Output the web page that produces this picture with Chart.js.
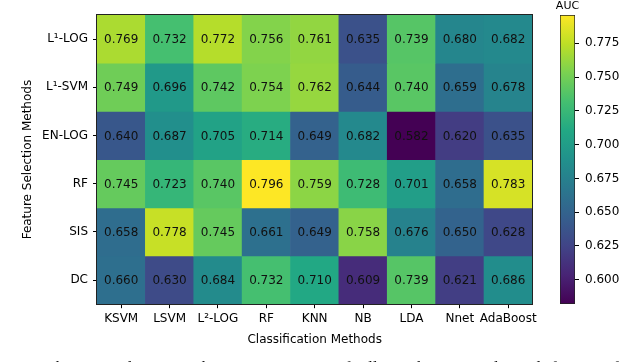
<!DOCTYPE html>
<html>
<head>
<meta charset="utf-8">
<script src="https://cdn.jsdelivr.net/npm/chart.js@4.4.1/dist/chart.umd.min.js"></script>
<style>
  body { margin: 0; background: #fff; width: 640px; height: 362px; overflow: hidden; position: relative; }
  #heat { position: absolute; left: 0; top: 0; }
  #cbar { position: absolute; left: 540px; top: 0; }
  #caption {
    position: absolute; left: 12px; top: 359px; white-space: nowrap;
    font-family: "Liberation Serif", serif; font-size: 17px; line-height: 17px;
    word-spacing: 6px; color: #111;
  }
</style>
</head>
<body>
<canvas id="heat" width="540" height="362"></canvas>
<canvas id="cbar" width="100" height="362"></canvas>
<div id="caption">2. A heatmap depicting the average AUC of all combinations derived from 6 feature and</div>
<script>
const rowLabels = ["L¹-LOG", "L¹-SVM", "EN-LOG", "RF", "SIS", "DC"];
const colLabels = ["KSVM", "LSVM", "L²-LOG", "RF", "KNN", "NB", "LDA", "Nnet", "AdaBoost"];

const aucL1Log = [0.769, 0.732, 0.772, 0.756, 0.761, 0.635, 0.739, 0.680, 0.682];
const aucL1Svm = [0.749, 0.696, 0.742, 0.754, 0.762, 0.644, 0.740, 0.659, 0.678];
const aucEnLog = [0.640, 0.687, 0.705, 0.714, 0.649, 0.682, 0.582, 0.620, 0.635];
const aucRf    = [0.745, 0.723, 0.740, 0.796, 0.759, 0.728, 0.701, 0.658, 0.783];
const aucSis   = [0.658, 0.778, 0.745, 0.661, 0.649, 0.758, 0.676, 0.650, 0.628];
const aucDc    = [0.660, 0.630, 0.684, 0.732, 0.710, 0.609, 0.739, 0.621, 0.686];

const colorbarTicks = [0.600, 0.625, 0.650, 0.675, 0.700, 0.725, 0.750, 0.775];
const aucMin = 0.582;
const aucMax = 0.796;

const rows = [aucL1Log, aucL1Svm, aucEnLog, aucRf, aucSis, aucDc];

// viridis colormap stops
const viridis = ["#440154", "#482475", "#414487", "#355f8d", "#2a788e", "#21918c",
                 "#22a884", "#44bf70", "#7ad151", "#bddf26", "#fde725"];

function hexToRgb(h) {
  return [parseInt(h.slice(1, 3), 16), parseInt(h.slice(3, 5), 16), parseInt(h.slice(5, 7), 16)];
}

function viridisColor(v) {
  let t = (v - aucMin) / (aucMax - aucMin);
  t = Math.max(0, Math.min(1, t));
  const pos = t * (viridis.length - 1);
  const i = Math.min(Math.floor(pos), viridis.length - 2);
  const f = pos - i;
  const a = hexToRgb(viridis[i]), b = hexToRgb(viridis[i + 1]);
  const c = a.map((x, k) => Math.round(x + (b[k] - x) * f));
  return `rgb(${c[0]},${c[1]},${c[2]})`;
}

const font = { family: "'DejaVu Sans', sans-serif", size: 12 };

// cell values + frame
const cellText = {
  id: "cellText",
  afterDatasetsDraw(chart) {
    const ctx = chart.ctx;
    ctx.save();
    ctx.font = "12px 'DejaVu Sans', sans-serif";
    ctx.fillStyle = "#111";
    ctx.textAlign = "center";
    ctx.textBaseline = "middle";
    chart.data.datasets.forEach((ds, r) => {
      chart.getDatasetMeta(r).data.forEach((bar, c) => {
        ctx.fillText(ds.data[c].auc.toFixed(3), bar.x, (bar.y + bar.base) / 2 + 1);
      });
    });
    const a = chart.chartArea;
    ctx.strokeStyle = "#222";
    ctx.lineWidth = 1;
    ctx.strokeRect(Math.round(a.left) - 0.5, Math.round(a.top) - 0.5,
                   Math.round(a.right - a.left) + 1, Math.round(a.bottom - a.top) + 1);
    ctx.restore();
  }
};

new Chart(document.getElementById("heat"), {
  type: "bar",
  data: {
    labels: colLabels,
    datasets: rows.map((vals, r) => ({
      label: rowLabels[r],
      data: vals.map((v, c) => ({ x: colLabels[c], y: [r, r + 1], auc: v })),
      backgroundColor: vals.map(v => viridisColor(v)),
      borderWidth: 0,
      grouped: false,
      barPercentage: 1,
      categoryPercentage: 1
    }))
  },
  options: {
    responsive: false,
    animation: false,
    devicePixelRatio: 1,
    layout: { padding: { left: 17, top: 15, right: 7, bottom: 15 } },
    plugins: { legend: { display: false }, tooltip: { enabled: false } },
    scales: {
      x: {
        type: "category",
        grid: { offset: false, drawOnChartArea: false, drawTicks: true, tickLength: 4, color: "#000" },
        border: { display: false },
        ticks: { color: "#000", font: font, padding: 3, autoSkip: false, maxRotation: 0 },
        title: { display: true, text: "Classification Methods", color: "#000", font: font, padding: { top: 4, bottom: 0 } }
      },
      y: {
        type: "linear",
        min: 0,
        max: 6,
        reverse: true,
        afterBuildTicks: axis => { axis.ticks = rowLabels.map((_, i) => ({ value: i + 0.5 })); },
        afterFit: axis => { axis.width = 80; },
        grid: { drawOnChartArea: false, drawTicks: true, tickLength: 4, color: "#000" },
        border: { display: false },
        ticks: { color: "#000", font: font, padding: 5, autoSkip: false, callback: (v, i) => rowLabels[i] },
        title: { display: true, text: "Feature Selection Methods", color: "#000", font: font, padding: { top: 4, bottom: 4 } }
      }
    }
  },
  plugins: [cellText]
});

// colorbar
const cbarTitle = {
  id: "cbarTitle",
  afterDraw(chart) {
    const ctx = chart.ctx, a = chart.chartArea;
    ctx.save();
    ctx.font = "11px 'DejaVu Sans', sans-serif";
    ctx.fillStyle = "#000";
    ctx.textAlign = "center";
    ctx.textBaseline = "middle";
    ctx.fillText("AUC", (a.left + a.right) / 2, a.top - 9);
    ctx.restore();
  }
};

new Chart(document.getElementById("cbar"), {
  type: "bar",
  data: {
    labels: ["AUC"],
    datasets: [{
      data: [[aucMin, aucMax]],
      backgroundColor: ctx => {
        const a = ctx.chart.chartArea;
        if (!a) return viridis[5];
        const g = ctx.chart.ctx.createLinearGradient(0, a.bottom, 0, a.top);
        viridis.forEach((c, i) => g.addColorStop(i / (viridis.length - 1), c));
        return g;
      },
      borderColor: "#222",
      borderWidth: 1,
      borderSkipped: false,
      barPercentage: 1,
      categoryPercentage: 1
    }]
  },
  options: {
    responsive: false,
    animation: false,
    devicePixelRatio: 1,
    layout: { padding: { left: 20, top: 15, right: 0, bottom: 58 } },
    plugins: { legend: { display: false }, tooltip: { enabled: false } },
    scales: {
      x: { display: false },
      y: {
        position: "right",
        min: aucMin,
        max: aucMax,
        afterBuildTicks: axis => { axis.ticks = colorbarTicks.map(v => ({ value: v })); },
        afterFit: axis => { axis.width = 65; },
        grid: { drawOnChartArea: false, drawTicks: true, tickLength: 4, color: "#000" },
        border: { display: false },
        ticks: { color: "#000", font: font, padding: 6, callback: v => v.toFixed(3) }
      }
    }
  },
  plugins: [cbarTitle]
});
</script>
</body>
</html>
